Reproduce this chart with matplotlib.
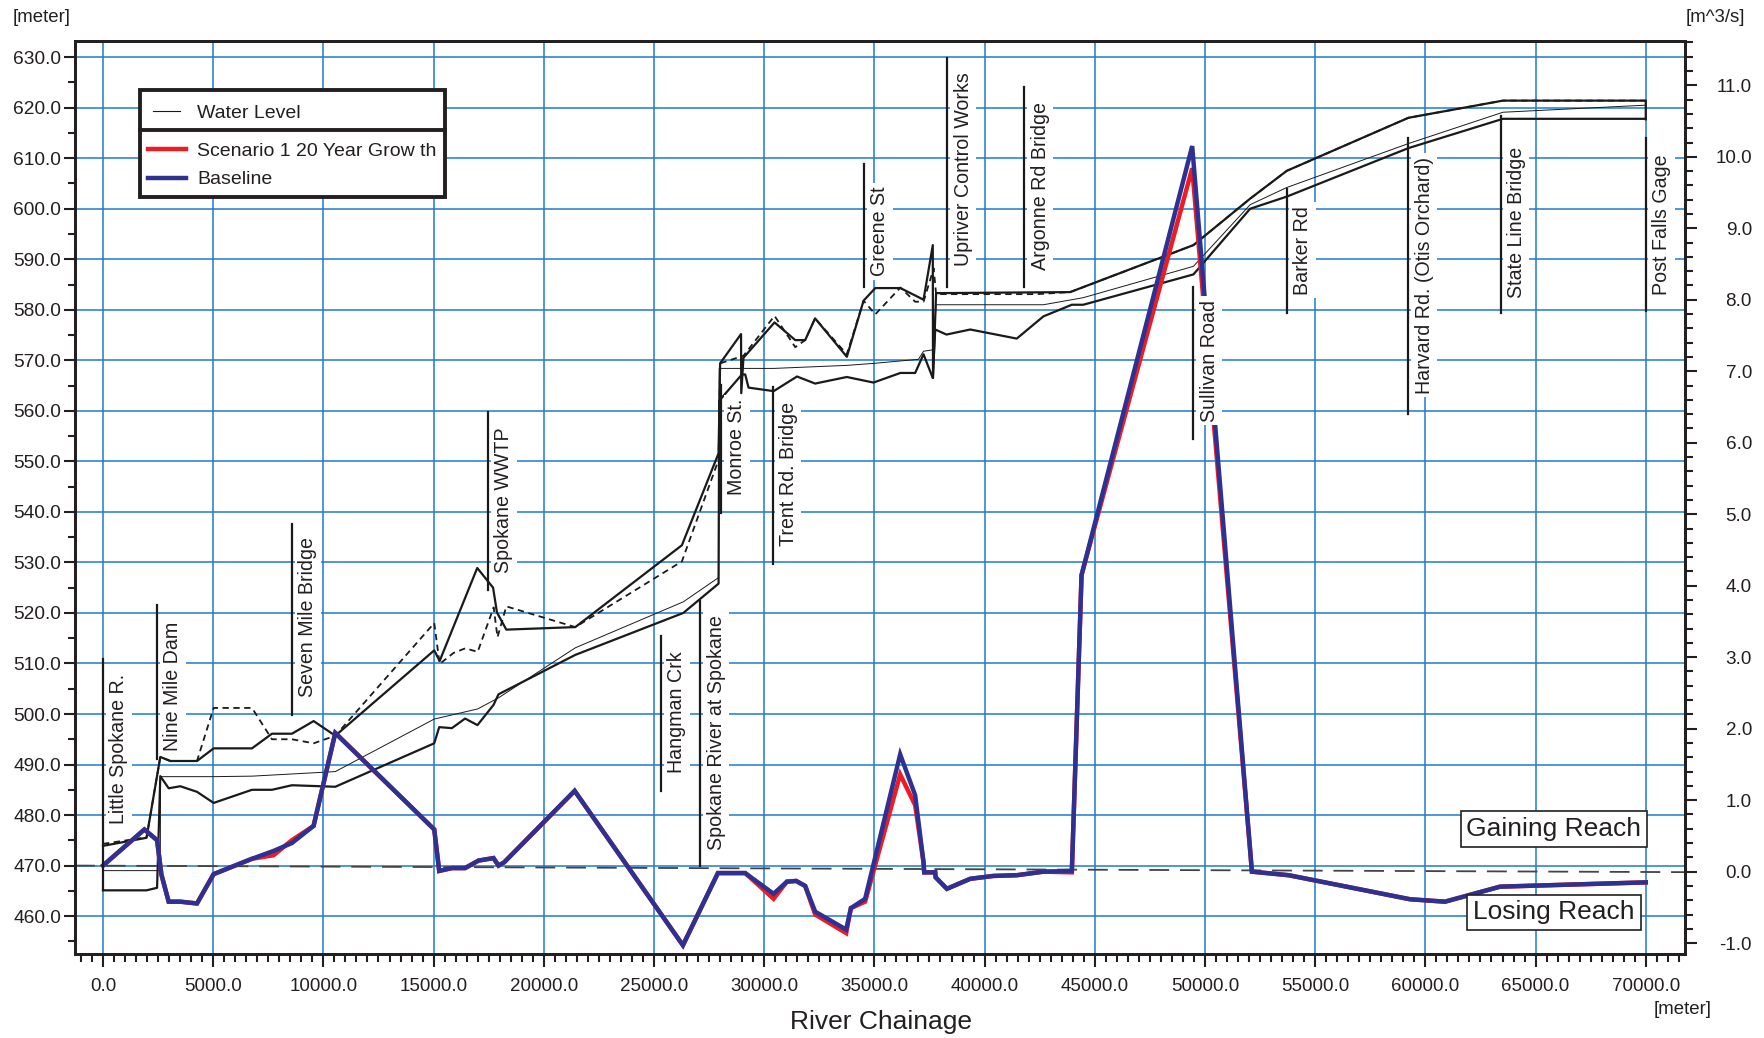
import matplotlib
matplotlib.use("Agg")
import matplotlib.pyplot as plt
from matplotlib.ticker import MultipleLocator, FuncFormatter
from matplotlib.patches import Rectangle
from matplotlib.lines import Line2D

plt.rcParams['font.family'] = ['Liberation Sans', 'DejaVu Sans']

# ---------------- data ----------------
# flow (m^3/s) along river chainage (m)
flow_x = [0, 1878, 2454, 2650, 2980, 3508, 4265, 5019, 6760, 7740, 8570, 9555, 10540,
          15030, 15255, 15830, 16430, 17040, 17720, 17945, 18200, 21400, 26313, 27900,
          29140, 30427, 31030, 31450, 31860, 32315, 33720, 33935, 34580, 36170, 36850,
          37230, 37260, 37760, 37780, 38290, 39350, 40400, 41460, 42670, 43960, 44400,
          49420, 52130, 53800, 59300, 60890, 63390, 70000]
baseline_q = [0.085, 0.59, 0.44, -0.04, -0.42, -0.42, -0.445, -0.035, 0.18, 0.29, 0.40, 0.64, 1.94,
              0.59, 0.01, 0.05, 0.05, 0.155, 0.19, 0.085, 0.13, 1.13, -1.03, -0.02,
              -0.02, -0.31, -0.14, -0.13, -0.20, -0.56, -0.81, -0.51, -0.38, 1.64, 1.07,
              0.13, -0.01, -0.01, -0.08, -0.24, -0.10, -0.06, -0.05, 0.0, 0.01, 4.15,
              10.15, 0.0, -0.05, -0.386, -0.42, -0.21, -0.15]
scenario_q = [0.085, 0.59, 0.44, -0.04, -0.42, -0.42, -0.445, -0.035, 0.18, 0.23, 0.44, 0.64, 1.94,
              0.59, 0.01, 0.05, 0.05, 0.155, 0.19, 0.085, 0.13, 1.13, -1.03, -0.02,
              -0.02, -0.38, -0.14, -0.13, -0.20, -0.60, -0.86, -0.51, -0.42, 1.36, 0.93,
              0.13, -0.01, -0.01, -0.08, -0.24, -0.10, -0.06, -0.05, 0.0, -0.01, 4.15,
              9.84, 0.0, -0.05, -0.386, -0.42, -0.21, -0.15]

# profile lines (m)
upper_x = [0, 1975, 2600, 3055, 4265, 5020, 6760, 7667, 8575, 9557, 10540, 15030, 15275,
           16980, 17700, 17875, 18300, 21430, 26266, 27930, 28000, 28950, 28960, 29060,
           30470, 31410, 31860, 32310, 33750, 34510, 35040, 36180, 37230, 37650, 37660,
           37800, 43880, 49475, 52050, 53710, 59230, 63520, 70000, 70000]
upper_v = [473.9, 475.5, 491.5, 490.7, 490.7, 493.2, 493.2, 496.1, 496.1, 498.6, 495.7, 512.6, 510.5,
           528.9, 525.0, 520.1, 516.7, 517.2, 533.4, 551.6, 569.4, 575.2, 563.5, 570.5,
           577.5, 574.0, 574.0, 578.3, 570.7, 581.8, 584.3, 584.3, 582.0, 592.8, 566.5,
           583.3, 583.5, 592.8, 602.0, 607.5, 618.0, 621.4, 621.4, 617.7]

dashed_x = [0, 1975, 2600, 3055, 4265, 5020, 6760, 7667, 8575, 9557, 10540, 15030, 15275,
            15910, 16440, 17000, 17725, 17900, 18300, 21430, 26266, 27930, 28000, 29060,
            30470, 31410, 31860, 32310, 33750, 34510, 35040, 36180, 36850, 37230, 37690,
            37800, 42370, 43880, 49475, 52050, 53710, 59230, 63520, 70000]
dashed_v = [474.3, 475.6, 491.5, 490.7, 490.7, 501.2, 501.2, 495.0, 495.0, 494.2, 495.7, 518.0, 509.9,
            512.1, 513.0, 512.3, 521.1, 515.2, 521.3, 517.2, 530.2, 550.3, 569.4, 570.9,
            578.8, 572.6, 574.0, 578.3, 571.2, 581.8, 579.1, 584.4, 581.6, 581.6, 588.2,
            583.1, 583.1, 583.5, 592.8, 602.0, 607.5, 618.0, 621.4, 621.4]

water_x = [0, 2600, 2610, 5020, 6760, 10540, 15030, 17000, 17945, 21430, 26330, 27930, 27960,
           29060, 30440, 33750, 34990, 37000, 37230, 37690, 37800, 42670, 44480, 49475,
           52050, 53710, 59230, 63520, 70000]
water_v = [469.0, 469.0, 487.6, 487.6, 487.7, 488.6, 499.0, 501.0, 503.2, 513.1, 522.2, 527.0, 568.4,
           568.4, 568.4, 569.0, 569.4, 570.2, 571.8, 572.1, 581.0, 581.0, 582.4, 588.6,
           600.8, 604.2, 612.9, 619.1, 620.5]

lower_x = [0, 1975, 2454, 2600, 2980, 3508, 4265, 5020, 6760, 7667, 8575, 10540, 15030, 15255,
           15830, 16430, 16990, 17720, 17945, 21430, 26330, 27930, 27960, 28990, 29140, 29290,
           30430, 31490, 32310, 33750, 34960, 36180, 36850, 37230, 37650, 37760, 38270, 39350,
           41460, 42670, 43960, 44480, 49475, 52050, 53710, 59230, 63520, 70000]
lower_v = [465.1, 465.1, 465.6, 487.7, 485.3, 485.7, 484.6, 482.4, 485.0, 485.0, 485.9, 485.6, 494.2, 497.4,
           497.2, 499.1, 497.8, 501.8, 503.9, 511.7, 520.0, 525.8, 562.0, 567.2, 567.2, 564.6,
           563.9, 566.8, 565.4, 566.7, 565.6, 567.5, 567.5, 571.2, 566.5, 576.1, 575.1, 576.1,
           574.3, 578.7, 581.0, 581.0, 587.0, 600.0, 602.4, 612.0, 617.8, 617.8]

zero_line_v = [470.0, 468.7]

# location markers: name, chainage, line bottom, line top, text bottom (m)
marker_names = ["Little Spokane R.", "Nine Mile Dam", "Seven Mile Bridge", "Spokane WWTP",
                "Hangman Crk", "Spokane River at Spokane", "Monroe St.", "Trent Rd. Bridge",
                "Greene St", "Upriver Control Works", "Argonne Rd Bridge", "Sullivan Road",
                "Barker Rd", "Harvard Rd. (Otis Orchard)", "State Line Bridge", "Post Falls Gage"]
marker_x = [0, 2454, 8577, 17468, 25315, 27100, 28037, 30378, 34537, 38316, 41808, 49475,
            53711, 59230, 63415, 70000]
marker_lo = [465.1, 491.0, 499.8, 524.6, 484.8, 470.0, 539.8, 529.7, 584.6, 584.6, 584.6, 554.5,
             579.4, 559.4, 579.4, 579.7]
marker_hi = [510.8, 521.5, 537.6, 559.8, 515.5, 522.3, 565.2, 564.8, 608.8, 629.8, 624.0, 584.6,
             604.0, 614.0, 618.4, 614.0]
marker_txt = [478.2, 492.7, 503.3, 528.0, 488.3, 473.0, 543.4, 533.2, 586.6, 588.6, 587.9, 557.8,
              583.0, 563.4, 582.4, 583.0]

x_ticks = list(range(0, 70001, 5000))
left_ticks = list(range(460, 631, 10))
right_ticks = list(range(-1, 12))

# ---------------- figure ----------------
W, H = 1765, 1038
fig = plt.figure(figsize=(W / 100, H / 100), dpi=100)
L, R, T, B = 75, 1685, 41, 954
ax = fig.add_axes([L / W, 1 - B / H, (R - L) / W, (B - T) / H])
ax2 = ax.twinx()

TXT = '#231f20'
GRID = '#1f7bd0'

ax.set_xlim(-1270, 71780)
ax.set_ylim(452.5, 633.2)
ax2.set_ylim(-1.152, 11.62)

ax.set_xticks(x_ticks)
ax.xaxis.set_minor_locator(MultipleLocator(500))
ax.set_yticks(left_ticks)
ax.yaxis.set_minor_locator(MultipleLocator(5))
ax2.set_yticks(right_ticks)
ax2.yaxis.set_minor_locator(MultipleLocator(0.2))
fmt = FuncFormatter(lambda v, p: f"{v:.1f}")
ax.xaxis.set_major_formatter(fmt)
ax.yaxis.set_major_formatter(fmt)
ax2.yaxis.set_major_formatter(fmt)

ax.grid(True, which='major', color=GRID, lw=1.1, zorder=0)
ax.set_axisbelow(True)

for a in (ax, ax2):
    for s in a.spines.values():
        s.set_linewidth(2.0)
        s.set_color('#231f20')

ax.tick_params(axis='x', which='major', direction='out', length=9.5, width=1.5,
               labelsize=13.5, pad=8, colors=TXT)
ax.tick_params(axis='x', which='minor', direction='out', length=5.8, width=1.5, colors=TXT)
ax.tick_params(axis='y', which='major', direction='out', length=8, width=1.5,
               labelsize=13.8, pad=2, colors=TXT)
ax.tick_params(axis='y', which='minor', direction='out', length=5, width=1.5, colors=TXT)
ax2.tick_params(axis='y', which='major', direction='out', length=8.6, width=1.5,
                labelsize=13.6, pad=39.6, colors=TXT)
ax2.tick_params(axis='y', which='minor', direction='out', length=5.8, width=1.5, colors=TXT)
for lab in ax2.get_yticklabels():
    lab.set_horizontalalignment('right')

# profile lines
ax.plot(upper_x, upper_v, color='#1a1a1a', lw=1.6, zorder=3)
ax.plot(dashed_x, dashed_v, color='#1a1a1a', lw=1.3, ls=(0, (3.5, 2.5)), zorder=3)
ax.plot(water_x, water_v, color='#1a1a1a', lw=0.7, zorder=3)
ax.plot(lower_x, lower_v, color='#1a1a1a', lw=1.6, zorder=3)
ax.plot([-1270, 71780], zero_line_v, color='#444444', lw=1.3, ls=(0, (11, 6)), zorder=2)

# flows
ax2.plot(flow_x, scenario_q, color='#ed1c24', lw=3.2, zorder=4, solid_joinstyle='miter')
ax2.plot(flow_x, baseline_q, color='#2e3192', lw=3.2, zorder=5, solid_joinstyle='miter')

# location markers
for name, x, lo, hi, tb in zip(marker_names, marker_x, marker_lo, marker_hi, marker_txt):
    ax2.plot([x, x], [lo, hi], transform=ax.transData, color='#1a1a1a', lw=1.6, zorder=8)
    ax2.annotate(name, xy=(x, tb), xycoords=ax.transData, xytext=(4.5, 0),
                 textcoords='offset points', rotation=90, ha='left', va='bottom',
                 fontsize=14.1, color=TXT, zorder=7,
                 bbox=dict(facecolor='white', edgecolor='none', pad=2.5))

# axis unit labels
def fx(px):
    return px / W

def fy(py):
    return 1 - py / H

fig.text(fx(42), fy(17), "[meter]", ha='center', va='center', fontsize=13.4, color=TXT)
fig.text(fx(1715), fy(17), "[m^3/s]", ha='center', va='center', fontsize=13.4, color=TXT)
fig.text(fx(1683), fy(1010), "[meter]", ha='center', va='center', fontsize=13.4, color=TXT)
fig.text(fx(881), fy(1022), "River Chainage", ha='center', va='center', fontsize=19, color=TXT)

# gaining / losing reach boxes
for label, cy in (("Gaining Reach", 829), ("Losing Reach", 912.5)):
    fig.text(fx(1554), fy(cy), label, ha='center', va='center', fontsize=19, color=TXT,
             bbox=dict(boxstyle='square,pad=0.22', facecolor='white', edgecolor='#231f20', lw=1.2))

# legend
lx0, ly0, lx1, ly1 = 140, 90, 445, 197
fig.add_artist(Rectangle((fx(lx0), fy(ly1)), fx(lx1) - fx(lx0), fy(ly0) - fy(ly1),
                         transform=fig.transFigure, facecolor='white', edgecolor='#231f20',
                         lw=2.8, zorder=20))
fig.add_artist(Line2D([fx(lx0), fx(lx1)], [fy(130), fy(130)], transform=fig.transFigure,
                      color='#231f20', lw=2.8, zorder=21))
fig.add_artist(Line2D([fx(153), fx(180)], [fy(111), fy(111)], transform=fig.transFigure,
                      color='#1a1a1a', lw=0.8, zorder=21))
fig.add_artist(Line2D([fx(148), fx(186)], [fy(149), fy(149)], transform=fig.transFigure,
                      color='#ed1c24', lw=3.2, zorder=21))
fig.add_artist(Line2D([fx(148), fx(186)], [fy(178), fy(178)], transform=fig.transFigure,
                      color='#2e3192', lw=3.2, zorder=21))
for txt, yy in (("Water Level", 113), ("Scenario 1 20 Year Grow th", 151), ("Baseline", 180)):
    fig.text(fx(197), fy(yy), txt, ha='left', va='center', fontsize=14, color=TXT, zorder=22)

fig.savefig("out.png", dpi=100)
